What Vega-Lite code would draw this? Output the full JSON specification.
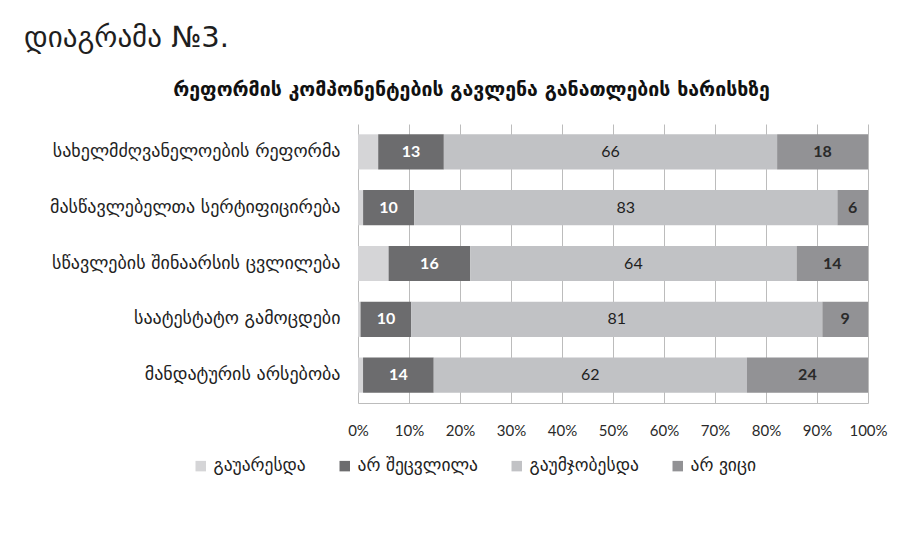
{
  "$schema": "https://vega.github.io/schema/vega-lite/v6.json",
  "autosize": {"type": "none"},
  "width": 510,
  "height": 279,
  "padding": {"left": 358, "top": 124, "right": 42, "bottom": 141},
  "background": "white",
  "title": {
    "text": "დიაგრამა №3.",
    "anchor": "start",
    "frame": "group",
    "dx": -334,
    "dy": -12,
    "offset": 14,
    "font": "DejaVu Sans",
    "fontSize": 29,
    "fontWeight": "normal",
    "color": "#1e1e1e"
  },
  "data": {
    "values": [
      {"category": "სახელმძღვანელოების რეფორმა", "response": "გაუარესდა", "value": 4},
      {"category": "სახელმძღვანელოების რეფორმა", "response": "არ შეცვლილა", "value": 13},
      {"category": "სახელმძღვანელოების რეფორმა", "response": "გაუმჯობესდა", "value": 66},
      {"category": "სახელმძღვანელოების რეფორმა", "response": "არ ვიცი", "value": 18},
      {"category": "მასწავლებელთა სერტიფიცირება", "response": "გაუარესდა", "value": 1},
      {"category": "მასწავლებელთა სერტიფიცირება", "response": "არ შეცვლილა", "value": 10},
      {"category": "მასწავლებელთა სერტიფიცირება", "response": "გაუმჯობესდა", "value": 83},
      {"category": "მასწავლებელთა სერტიფიცირება", "response": "არ ვიცი", "value": 6},
      {"category": "სწავლების შინაარსის ცვლილება", "response": "გაუარესდა", "value": 6},
      {"category": "სწავლების შინაარსის ცვლილება", "response": "არ შეცვლილა", "value": 16},
      {"category": "სწავლების შინაარსის ცვლილება", "response": "გაუმჯობესდა", "value": 64},
      {"category": "სწავლების შინაარსის ცვლილება", "response": "არ ვიცი", "value": 14},
      {"category": "საატესტატო გამოცდები", "response": "გაუარესდა", "value": 0.5},
      {"category": "საატესტატო გამოცდები", "response": "არ შეცვლილა", "value": 10},
      {"category": "საატესტატო გამოცდები", "response": "გაუმჯობესდა", "value": 81},
      {"category": "საატესტატო გამოცდები", "response": "არ ვიცი", "value": 9},
      {"category": "მანდატურის არსებობა", "response": "გაუარესდა", "value": 1},
      {"category": "მანდატურის არსებობა", "response": "არ შეცვლილა", "value": 14},
      {"category": "მანდატურის არსებობა", "response": "გაუმჯობესდა", "value": 62},
      {"category": "მანდატურის არსებობა", "response": "არ ვიცი", "value": 24}
    ]
  },
  "transform": [
    {"window": [{"op": "row_number", "as": "rank"}], "groupby": ["category"]},
    {"stack": "value", "groupby": ["category"], "sort": [{"field": "rank", "order": "ascending"}], "offset": "normalize", "as": ["x0", "x1"]},
    {"calculate": "(datum.x0 + datum.x1) / 2", "as": "xm"}
  ],
  "encoding": {
    "y": {
      "field": "category",
      "type": "nominal",
      "sort": null,
      "scale": {"paddingInner": 0.37, "paddingOuter": 0.185},
      "axis": {
        "title": null,
        "domain": false,
        "ticks": false,
        "labelPadding": 18,
        "labelFont": "DejaVu Sans",
        "labelFontSize": 18,
        "labelColor": "#222222",
        "labelLimit": 400
      }
    }
  },
  "layer": [
    {
      "mark": {"type": "bar"},
      "encoding": {
        "x": {
          "field": "x0",
          "type": "quantitative",
          "scale": {"domain": [0, 1], "nice": false},
          "axis": {
            "values": [0, 0.1, 0.2, 0.3, 0.4, 0.5, 0.6, 0.7, 0.8, 0.9, 1],
            "format": ".0%",
            "grid": true,
            "gridColor": "#bcbcbc",
            "gridWidth": 1,
            "domain": true,
            "domainColor": "#bcbcbc",
            "ticks": false,
            "labelOverlap": false,
            "labelFlush": false,
            "labelPadding": 20,
            "labelFont": "Lato",
            "labelFontSize": 15,
            "labelColor": "#2a2a2a",
            "title": "რეფორმის კომპონენტების გავლენა განათლების ხარისხზე",
            "titleFont": "DejaVu Sans",
            "titleFontSize": 19.5,
            "titleFontWeight": "bold",
            "titleColor": "#111111",
            "titleX": 113,
            "titleY": -314,
            "titleAlign": "center",
            "titleBaseline": "middle"
          }
        },
        "x2": {"field": "x1"},
        "color": {
          "field": "response",
          "type": "nominal",
          "scale": {
            "domain": ["გაუარესდა", "არ შეცვლილა", "გაუმჯობესდა", "არ ვიცი"],
            "range": ["#d5d5d7", "#6c6c6e", "#c1c2c5", "#929295"]
          },
          "legend": {
            "title": null,
            "orient": "none",
            "legendX": -166,
            "legendY": 333,
            "direction": "horizontal",
            "symbolType": "square",
            "symbolSize": 110,
            "symbolStrokeWidth": 0,
            "labelFont": "DejaVu Sans",
            "labelFontSize": 17.5,
            "labelColor": "#222222",
            "labelOffset": 4,
            "columnPadding": 30
          }
        }
      }
    },
    {
      "transform": [{"filter": "datum.response === 'არ შეცვლილა'"}],
      "mark": {"type": "text", "font": "Lato", "fontSize": 16, "fontWeight": "bold", "color": "white"},
      "encoding": {
        "x": {"field": "xm", "type": "quantitative"},
        "text": {"field": "value", "type": "quantitative"}
      }
    },
    {
      "transform": [{"filter": "datum.response === 'გაუმჯობესდა'"}],
      "mark": {"type": "text", "font": "Lato", "fontSize": 16, "color": "#1e1e1e"},
      "encoding": {
        "x": {"field": "xm", "type": "quantitative"},
        "text": {"field": "value", "type": "quantitative"}
      }
    },
    {
      "transform": [{"filter": "datum.response === 'არ ვიცი'"}],
      "mark": {"type": "text", "font": "Lato", "fontSize": 16, "fontWeight": "bold", "color": "#2a2a2a"},
      "encoding": {
        "x": {"field": "xm", "type": "quantitative"},
        "text": {"field": "value", "type": "quantitative"}
      }
    }
  ],
  "config": {
    "view": {"stroke": null}
  }
}
